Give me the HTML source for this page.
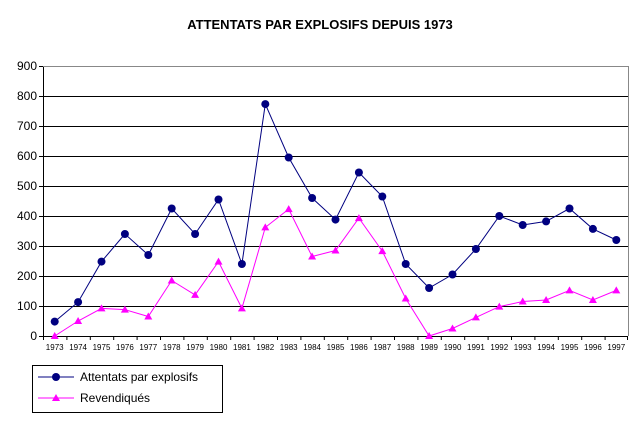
<!DOCTYPE html>
<html><head><meta charset="utf-8"><style>body{margin:0;background:#fff}svg{display:block}text{font-family:"Liberation Sans",Arial,sans-serif}</style></head><body>
<svg width="639" height="423" viewBox="0 0 639 423" xmlns="http://www.w3.org/2000/svg">
<defs>
<marker id="c" markerUnits="userSpaceOnUse" markerWidth="10" markerHeight="10" refX="5" refY="5" overflow="visible"><circle cx="5" cy="5" r="4" fill="#000080"/></marker>
<marker id="t" markerUnits="userSpaceOnUse" markerWidth="10" markerHeight="10" refX="5" refY="5" overflow="visible"><polygon points="5,1 1,8 9,8" fill="#ff00ff"/></marker>
</defs>
<text x="320" y="29" text-anchor="middle" font-size="13" font-weight="bold">ATTENTATS PAR EXPLOSIFS DEPUIS 1973</text>
<g stroke="#000" stroke-width="1">
<path d="M43 96.5H628M43 126.5H628M43 156.5H628M43 186.5H628M43 216.5H628M43 246.5H628M43 276.5H628M43 306.5H628"/>
<path d="M43.5 66V336M39 336.5H628M39 66.5H43M39 96.5H43M39 126.5H43M39 156.5H43M39 186.5H43M39 216.5H43M39 246.5H43M39 276.5H43M39 306.5H43"/>
<path d="M43.5 336v4M66.9 336v4M90.3 336v4M113.7 336v4M137.1 336v4M160.5 336v4M183.9 336v4M207.3 336v4M230.7 336v4M254.1 336v4M277.5 336v4M300.9 336v4M324.3 336v4M347.7 336v4M371.1 336v4M394.5 336v4M417.9 336v4M441.3 336v4M464.7 336v4M488.1 336v4M511.5 336v4M534.9 336v4M558.3 336v4M581.7 336v4M605.1 336v4M627.5 336v4"/>
</g>
<path d="M43 66.5H628.5V336" fill="none" stroke="#888"/>
<g font-size="12" text-anchor="end">
<text x="37" y="340">0</text><text x="37" y="310">100</text><text x="37" y="280">200</text><text x="37" y="250">300</text><text x="37" y="220">400</text><text x="37" y="190">500</text><text x="37" y="160">600</text><text x="37" y="130">700</text><text x="37" y="100">800</text><text x="37" y="70">900</text>
</g>
<g font-size="8" text-anchor="middle">
<text x="54.7" y="350">1973</text><text x="78.1" y="350">1974</text><text x="101.5" y="350">1975</text><text x="124.9" y="350">1976</text><text x="148.3" y="350">1977</text><text x="171.7" y="350">1978</text><text x="195.1" y="350">1979</text><text x="218.5" y="350">1980</text><text x="241.9" y="350">1981</text><text x="265.3" y="350">1982</text><text x="288.7" y="350">1983</text><text x="312.1" y="350">1984</text><text x="335.5" y="350">1985</text><text x="358.9" y="350">1986</text><text x="382.3" y="350">1987</text><text x="405.7" y="350">1988</text><text x="429.1" y="350">1989</text><text x="452.5" y="350">1990</text><text x="475.9" y="350">1991</text><text x="499.3" y="350">1992</text><text x="522.7" y="350">1993</text><text x="546.1" y="350">1994</text><text x="569.5" y="350">1995</text><text x="592.9" y="350">1996</text><text x="616.3" y="350">1997</text>
</g>
<polyline fill="none" stroke="#ff00ff" marker-start="url(#t)" marker-mid="url(#t)" marker-end="url(#t)" points="54.7,336 78.1,321 101.5,308.4 124.9,309.6 148.3,316.5 171.7,280.5 195.1,294.9 218.5,261.6 241.9,308.4 265.3,227.4 288.7,209.1 312.1,256.5 335.5,250.5 358.9,218.1 382.3,251.1 405.7,298.5 429.1,336 452.5,328.5 475.9,317.4 499.3,306.6 522.7,301.5 546.1,300 569.5,290.4 592.9,300 616.3,290.4"/>
<polyline fill="none" stroke="#000080" marker-start="url(#c)" marker-mid="url(#c)" marker-end="url(#c)" points="54.7,321.6 78.1,302.1 101.5,261.6 124.9,234 148.3,255 171.7,208.5 195.1,234 218.5,199.5 241.9,264 265.3,104.1 288.7,157.5 312.1,198 335.5,219.6 358.9,172.5 382.3,196.5 405.7,264 429.1,288 452.5,274.5 475.9,249 499.3,216 522.7,225 546.1,221.4 569.5,208.5 592.9,228.9 616.3,240"/>
<rect x="32.5" y="365.5" width="190" height="47" fill="#fff" stroke="#000"/>
<line x1="38" x2="74" y1="377" y2="377" stroke="#000080"/><circle cx="56" cy="377" r="4" fill="#000080"/><text x="80" y="381" font-size="12">Attentats par explosifs</text>
<line x1="38" x2="74" y1="398" y2="398" stroke="#ff00ff"/><polygon fill="#ff00ff" points="56,394 52,401 60,401"/><text x="80" y="402" font-size="12">Revendiqués</text>
</svg>
</body></html>
